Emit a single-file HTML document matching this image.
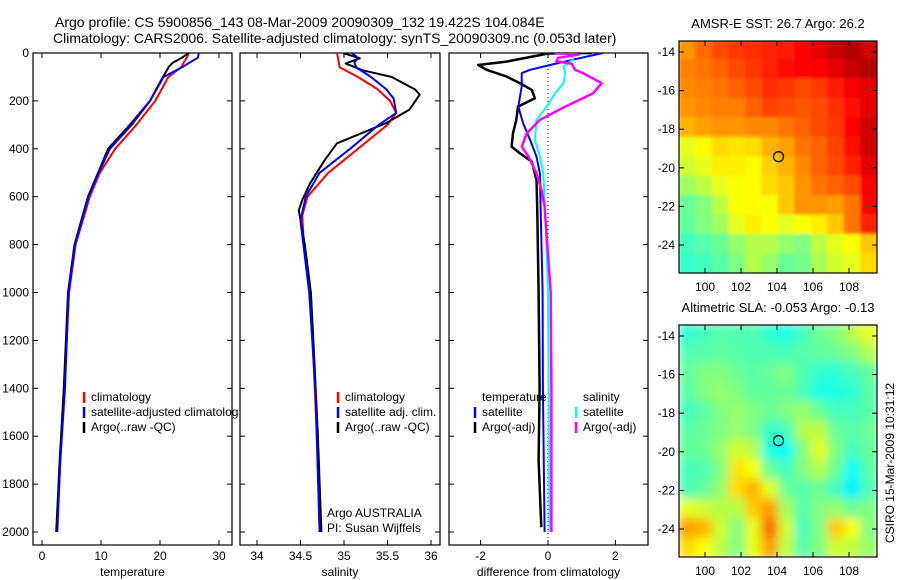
<!DOCTYPE html>
<html><head><meta charset="utf-8"><style>
html,body{margin:0;padding:0;background:#fff;}
svg{display:block;font-family:"Liberation Sans",sans-serif;}
text{fill:#000;}
</style></head><body>
<svg id="fig" width="900" height="580" viewBox="0 0 900 580" xmlns="http://www.w3.org/2000/svg">
<defs>
<clipPath id="c1"><rect x="33" y="53" width="205" height="492"/></clipPath>
<clipPath id="c2"><rect x="241" y="53" width="199" height="492"/></clipPath>
<clipPath id="c3"><rect x="449" y="53" width="199" height="492"/></clipPath>
<clipPath id="cm1"><rect x="679" y="41" width="198" height="232"/></clipPath>
<clipPath id="cm2"><rect x="679" y="325" width="198" height="232"/></clipPath>
<filter id="blur1" x="-10%" y="-10%" width="120%" height="120%"><feGaussianBlur stdDeviation="1.5"/></filter>
<filter id="blur2" x="-10%" y="-10%" width="120%" height="120%"><feGaussianBlur stdDeviation="5"/></filter>
</defs>
<text x="55" y="27" font-size="14">Argo profile: CS 5900856_143 08-Mar-2009 20090309_132 19.422S 104.084E</text>
<text x="53" y="43" font-size="14">Climatology: CARS2006. Satellite-adjusted climatology: synTS_20090309.nc (0.053d later)</text>
<g id="g"></g>
</svg>
<script>
// ---- profile data ----
const tDepth=[0,20,40,57,100,200,300,400,500,600,800,1000,1400,1700,2000];
const tArgo=[24.9,23.7,22.2,21.5,20.5,18.3,14.9,11.2,9.5,7.8,5.5,4.4,3.7,3.0,2.4];
const tClim=[24.9,24.5,24.0,23.7,21.4,19.2,16.0,12.4,9.8,8.1,5.7,4.6,3.8,3.1,2.5];
const tSat=[26.6,26.4,25.0,23.9,20.6,18.3,15.2,11.5,9.6,7.9,5.6,4.5,3.9,3.1,2.6];
const sDepth=[0,22,44,72,100,153,174,237,293,377,446,544,614,657,800,1000,1285,1600,2000];
const sArgo=[34.99,35.18,35.02,35.21,35.55,35.82,35.87,35.75,35.48,34.92,34.78,34.61,34.52,34.48,34.55,34.62,34.66,34.70,34.74];
const sClimD=[0,60,100,150,200,250,300,400,500,600,680,800,1000,1285,1600,2000];
const sClim=[34.92,34.95,35.16,35.38,35.53,35.60,35.50,35.16,34.82,34.58,34.52,34.54,34.61,34.65,34.69,34.72];
const sSatD=[0,20,40,60,100,150,190,250,300,400,500,600,700,1000,1400,2000];
const sSat=[35.09,35.16,35.12,35.14,35.31,35.48,35.57,35.60,35.40,35.07,34.72,34.56,34.50,34.60,34.67,34.72];
const dtArgoD=[0,2,36,50,70,98,126,154,189,224,279,335,391,419,454,530,642,1000,1400,1700,1980];
const dtArgo=[1.3,0.0,-1.23,-2.07,-1.82,-1.23,-0.83,-0.48,-0.39,-0.89,-0.94,-1.04,-1.08,-0.83,-0.48,-0.34,-0.32,-0.28,-0.25,-0.28,-0.2];
const dtSatD=[0,28,50,70,84,140,224,293,363,433,503,642,1000,1400,2000];
const dtSat=[1.63,0.74,0.06,-0.53,-0.78,-0.78,-0.88,-0.74,-0.53,-0.34,-0.24,-0.22,-0.16,-0.15,-0.1];
const dsSatD=[0,28,56,84,126,168,224,279,363,433,503,642,1000,1400,2000];
const dsSat=[0.70,0.74,0.46,0.51,0.46,0.21,-0.04,-0.34,-0.39,-0.24,-0.14,-0.09,0.0,0.02,0.04];
const dsArgoD=[0,7,20,35,45,70,84,126,168,224,279,335,391,433,503,572,642,1000,1400,2000];
const dsArgo=[0.2,0.9,0.3,0.25,0.7,0.8,1.04,1.59,1.34,0.51,-0.24,-0.63,-0.78,-0.58,-0.34,-0.19,-0.1,0.08,0.1,0.1];
const depthTicks=[0,200,400,600,800,1000,1200,1400,1600,1800,2000];
const tTicks=[0,10,20,30];
const sTicks=[34,34.5,35,35.5,36];
const dTicks=[-2,0,2];
// ---- map data (colormap index 0..1, rows N->S, cols W->E) ----
const sstGrid=[
[.73,.77,.8,.82,.83,.84,.85,.87,.9,.93,.95,.92],
[.75,.76,.78,.8,.82,.84,.86,.87,.88,.9,.93,.95],
[.74,.75,.76,.78,.8,.83,.82,.8,.82,.85,.88,.9],
[.73,.74,.75,.75,.78,.81,.8,.79,.8,.83,.86,.9],
[.7,.72,.73,.73,.74,.74,.76,.78,.8,.82,.87,.92],
[.6,.63,.66,.65,.66,.7,.72,.76,.78,.81,.86,.92],
[.58,.6,.64,.64,.63,.67,.7,.74,.78,.8,.84,.9],
[.53,.56,.6,.62,.63,.66,.68,.73,.76,.78,.8,.88],
[.48,.5,.56,.62,.63,.62,.68,.73,.73,.72,.76,.87],
[.47,.5,.53,.6,.64,.62,.6,.62,.64,.68,.76,.84],
[.44,.46,.48,.52,.55,.55,.52,.5,.56,.6,.62,.68],
[.43,.44,.46,.5,.55,.52,.48,.49,.54,.58,.6,.66]];
const slaGrid=[
[.42,.44,.46,.45,.45,.42,.4,.44,.48,.5,.55,.6],
[.45,.46,.47,.46,.45,.45,.44,.46,.47,.48,.5,.55],
[.47,.5,.5,.48,.46,.48,.5,.45,.42,.42,.44,.47],
[.46,.5,.52,.5,.47,.47,.48,.45,.4,.4,.42,.46],
[.44,.46,.5,.52,.5,.48,.5,.52,.48,.44,.44,.46],
[.46,.48,.5,.52,.5,.43,.44,.55,.56,.48,.46,.48],
[.47,.48,.52,.58,.56,.4,.38,.5,.6,.5,.44,.47],
[.44,.45,.5,.65,.62,.48,.44,.5,.55,.48,.38,.46],
[.45,.47,.52,.66,.7,.6,.48,.46,.48,.44,.36,.45],
[.6,.58,.55,.55,.68,.72,.54,.46,.5,.52,.48,.5],
[.72,.7,.58,.5,.6,.78,.58,.44,.5,.68,.62,.5],
[.66,.62,.56,.5,.6,.72,.56,.46,.5,.58,.56,.52]];
const lonTicks=[100,102,104,106,108];
const latTicks=[-14,-16,-18,-20,-22,-24];
const argoLon=104.084, argoLat=-19.422;

const NS='http://www.w3.org/2000/svg';
const G=document.getElementById('g');
function mk(tag,attrs,parent){const e=document.createElementNS(NS,tag);for(const k in attrs)e.setAttribute(k,attrs[k]);(parent||G).appendChild(e);return e;}
function txt(x,y,s,size,anchor,parent){const t=mk('text',{x:x,y:y,'font-size':size,'text-anchor':anchor||'start'},parent);t.textContent=s;return t;}
const yD=d=>53+d*0.2395;
const xT=v=>42+v*5.9;
const xS=v=>257+(v-34)*87;
const xDf=v=>548+v*33.7;

function panel(x0,x1,xf,ticks,title,name,showY){
  const box=mk('rect',{x:x0,y:53,width:x1-x0,height:492,fill:'none',stroke:'#000','stroke-width':1.2});
  
  
  depthTicks.forEach(d=>{const y=yD(d);
    mk('line',{x1:x0,y1:y,x2:x0+5,y2:y,stroke:'#000'});mk('line',{x1:x1,y1:y,x2:x1-5,y2:y,stroke:'#000'});
    if(showY){const t=txt(x0-4,y+4,String(d),12,'end');}
  });
  ticks.forEach(v=>{const x=xf(v);
    mk('line',{x1:x,y1:545,x2:x,y2:540,stroke:'#000'});mk('line',{x1:x,y1:53,x2:x,y2:58,stroke:'#000'});
    const t=txt(x,560,String(v),12,'middle');
  });
  const tt=txt((x0+x1)/2,576,title,12,'middle');
  
  
}
function line(depths,vals,xf,color,clip,name,w,dash){
  const pts=depths.map((d,i)=>xf(vals[i]).toFixed(1)+','+yD(d).toFixed(1)).join(' ');
  const p=mk('polyline',{points:pts,fill:'none',stroke:color,'stroke-width':w||2,'clip-path':'url(#'+clip+')','stroke-linejoin':'round'});
  if(dash)p.setAttribute('stroke-dasharray',dash);
  
  
}
function legend(x,y,color,label,clip){
  mk('line',{x1:x,y1:y-9,x2:x,y2:y+2,stroke:color,'stroke-width':2.5});
  const t=txt(x+7,y,label,12,'start');
  if(clip)t.setAttribute('clip-path','url(#'+clip+')');
  
  
}
// panel 1 temperature
panel(33,232,xT,tTicks,'temperature','temperature-panel',true);
line(tDepth,tClim,xT,'#f00','c1','temperature-climatology-line');
line(tDepth,tArgo,xT,'#000','c1','temperature-argo-line');
line(tDepth,tSat,xT,'#00f','c1','temperature-satellite-line');
legend(84,401,'#f00','climatology','c1');
legend(84,416,'#00f','satellite-adjusted climatology','c1');
legend(84,431,'#000','Argo(..raw -QC)','c1');
// panel 2 salinity
panel(240,440,xS,sTicks,'salinity','salinity-panel',false);
line(sClimD,sClim,xS,'#f00','c2','salinity-climatology-line');
line(sDepth,sArgo,xS,'#000','c2','salinity-argo-line');
line(sSatD,sSat,xS,'#00f','c2','salinity-satellite-line');
legend(338,401,'#f00','climatology');
legend(338,416,'#00f','satellite adj. clim.');
legend(338,431,'#000','Argo(..raw -QC)');
const a1=txt(327,517,'Argo AUSTRALIA',12);
const a2=txt(327,532,'PI: Susan Wijffels',12);
// panel 3 difference
panel(449,648,xDf,dTicks,'difference from climatology','difference-panel',false);
mk('line',{x1:xDf(0),y1:53,x2:xDf(0),y2:545,stroke:'#000','stroke-width':1,'stroke-dasharray':'1,3'});
line(dtArgoD,dtArgo,xDf,'#000','c3','temp-diff-argo-line',2.5);
line(dtSatD,dtSat,xDf,'#00f','c3','temp-diff-satellite-line');
line(dsSatD,dsSat,xDf,'#0ff','c3','sal-diff-satellite-line');
line(dsArgoD,dsArgo,xDf,'#f0f','c3','sal-diff-argo-line',2.5);
const l1=txt(482,401,'temperature',12);
legend(475,416,'#00f','satellite');
legend(475,431,'#000','Argo(-adj)');
const l2=txt(583,401,'salinity',12);
legend(576,416,'#0ff','satellite');
legend(576,431,'#f0f','Argo(-adj)');

// ---- maps ----
function jet(t){t=Math.max(0,Math.min(1,t));
  const r=Math.max(0,Math.min(1,1.5-Math.abs(4*t-3)));
  const g=Math.max(0,Math.min(1,1.5-Math.abs(4*t-2)));
  const b=Math.max(0,Math.min(1,1.5-Math.abs(4*t-1)));
  return 'rgb('+Math.round(r*255)+','+Math.round(g*255)+','+Math.round(b*255)+')';}
const lonX=lon=>705+(lon-100)*18;
function mapPanel(grid,yTop,lat14y,clip,blur,title,name){
  const latY=lat=>lat14y+(-14-lat)*19.3;
  const grp=mk('g',{'clip-path':'url(#'+clip+')'});
  const inner=mk('g',{filter:'url(#'+blur+')'},grp);
  const nr=grid.length,nc=grid[0].length;
  const lon0=98.6,lon1=109.6,lat0=-13.4,lat1=-25.5;
  const dl=(lon1-lon0)/nc, dp=(lat0-lat1)/nr;
  grid.forEach((row,i)=>row.forEach((v,j)=>{
    const x=lonX(lon0+j*dl), y=latY(lat0-i*dp);
    const c=mk('rect',{x:x-1,y:y-1,width:lonX(lon0+(j+1)*dl)-x+2,height:latY(lat0-(i+1)*dp)-y+2,fill:jet(v)},inner);
    
    
  }));
  const box=mk('rect',{x:679,y:yTop,width:198,height:232,fill:'none',stroke:'#000','stroke-width':1.2});
  
  
  lonTicks.forEach(l=>{const x=lonX(l);
    mk('line',{x1:x,y1:yTop+232,x2:x,y2:yTop+227,stroke:'#000'});mk('line',{x1:x,y1:yTop,x2:x,y2:yTop+5,stroke:'#000'});
    const t=txt(x,yTop+250,String(l),12,'middle');});
  latTicks.forEach(l=>{const y=latY(l);
    mk('line',{x1:679,y1:y,x2:684,y2:y,stroke:'#000'});mk('line',{x1:877,y1:y,x2:872,y2:y,stroke:'#000'});
    const t=txt(675,y+4,String(l),12,'end');});
  const c=mk('circle',{cx:lonX(argoLon),cy:latY(argoLat),r:5,fill:'none',stroke:'#000','stroke-width':1.2});
  
  
  const tt=txt(778,yTop-13,title,13,'middle');
  
  
}
mapPanel(sstGrid,41,52,'cm1','blur1','AMSR-E SST: 26.7 Argo: 26.2','sst-map');
mapPanel(slaGrid,325,336,'cm2','blur2','Altimetric SLA: -0.053 Argo: -0.13','sla-map');
const cs=txt(0,0,'CSIRO 15-Mar-2009 10:31:12',12,'middle');
cs.setAttribute('transform','translate(894,463) rotate(-90)');


</script>
</body></html>
